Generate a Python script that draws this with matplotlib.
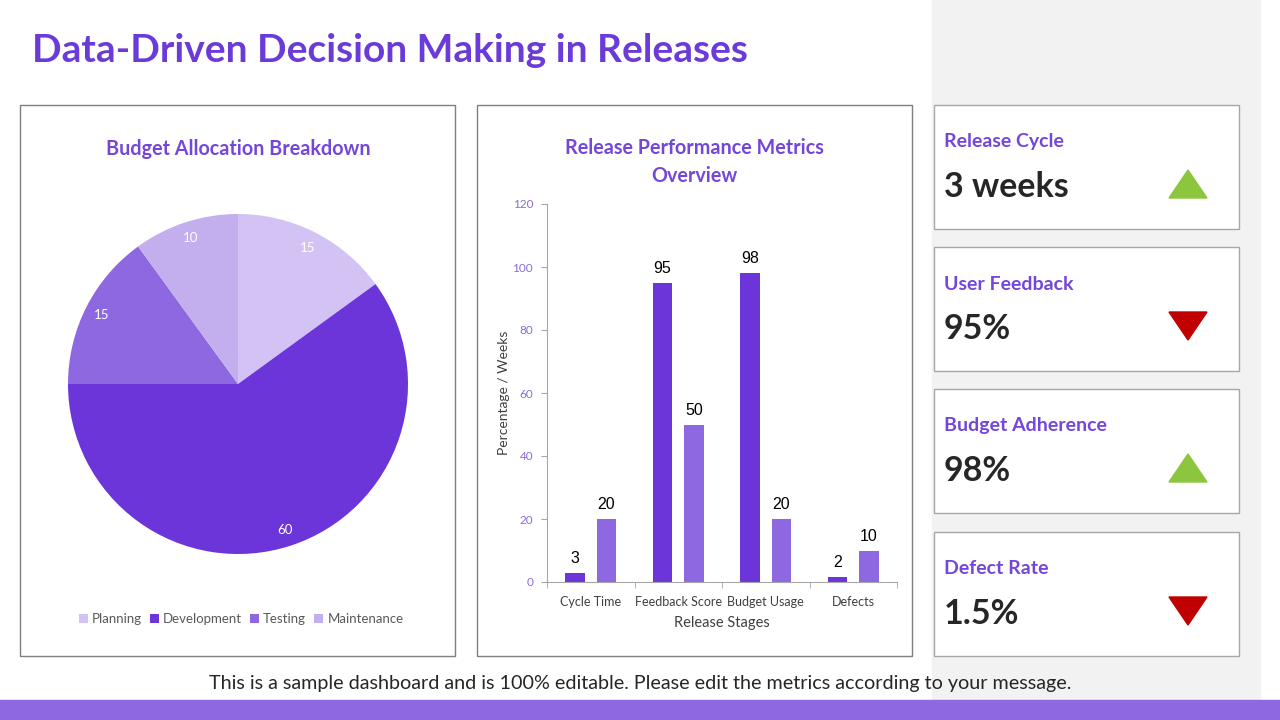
import numpy as np
import matplotlib.pyplot as plt
from matplotlib.patches import Rectangle, Polygon

plt.rcParams['font.family'] = ['Lato', 'DejaVu Sans']

# pie data
pie_labels = ['Planning', 'Development', 'Testing', 'Maintenance']
pie_values = [15, 60, 15, 10]
pie_colors = ['#D2C3F4', '#6B35DA', '#8D68E0', '#C3AEEE']

# bar data
stages = ['Cycle Time', 'Feedback Score', 'Budget Usage', 'Defects']
actual = [3, 95, 98, 1.5]
target = [20, 50, 20, 10]

# kpi cards
kpi_titles = ['Release Cycle', 'User Feedback', 'Budget Adherence', 'Defect Rate']
kpi_values = ['3 weeks', '95%', '98%', '1.5%']
kpi_up = [True, False, True, False]

W, H = 1280, 720
PURPLE = '#6A3BD8'
SUB = '#7446D9'

fig = plt.figure(figsize=(12.8, 7.2), dpi=100)
bg = fig.add_axes([0, 0, 1, 1])
bg.set_xlim(0, W)
bg.set_ylim(H, 0)
bg.axis('off')

def px_axes(x, y, w, h):
    return fig.add_axes([x / W, 1 - (y + h) / H, w / W, h / H])

# backgrounds
bg.add_patch(Rectangle((932, 0), 328, 700, color='#F2F2F2', zorder=0))
bg.add_patch(Rectangle((0, 700), W, 20, color='#8D68E0', zorder=0))

bg.text(32, 50, 'Data-Driven Decision Making in Releases', fontsize=28,
        fontweight='bold', color=PURPLE, va='center', ha='left')

# panel boxes
for x0 in [20, 477]:
    bg.add_patch(Rectangle((x0, 105), 435, 551, facecolor='white',
                           edgecolor='#7F7F7F', lw=1, zorder=1))

bg.text(238, 149, 'Budget Allocation Breakdown', fontsize=14.2, fontweight='bold',
        color=SUB, ha='center', va='center')
bg.text(694, 162, 'Release Performance Metrics\nOverview', fontsize=14.2,
        fontweight='bold', color=SUB, ha='center', va='center', linespacing=1.55)

# kpi cards
card_tops = [105, 247, 389, 532]
for top, t, v, up in zip(card_tops, kpi_titles, kpi_values, kpi_up):
    bg.add_patch(Rectangle((934, top), 305, 124, facecolor='white',
                           edgecolor='#A6A6A6', lw=1, zorder=1))
    bg.text(944, top + 37, t, fontsize=14, fontweight='bold', color=SUB,
            va='center', ha='left', zorder=2)
    bg.text(944, top + 82, v, fontsize=24.5, fontweight='bold', color='#262626',
            va='center', ha='left', zorder=2)
    if up:
        tri = [(1169, top + 93), (1207, top + 93), (1188, top + 65)]
        c = '#8CC63F'
    else:
        tri = [(1169, top + 65), (1207, top + 65), (1188, top + 93)]
        c = '#C00000'
    bg.add_patch(Polygon(tri, closed=True, color=c, zorder=2))

bg.text(640, 684, 'This is a sample dashboard and is 100% editable. Please edit the metrics according to your message.',
        fontsize=14.2, color='#262626', ha='center', va='center')

# pie chart
axp = px_axes(68, 214, 340, 340)
total = sum(pie_values)
wedges, texts, autotexts = axp.pie(
    pie_values, colors=pie_colors, startangle=90, counterclock=False,
    autopct=lambda p: '%d' % round(p * total / 100), pctdistance=0.9,
    textprops=dict(color='white', fontsize=9.5))
axp.set_xlim(-1, 1)
axp.set_ylim(-1, 1)
axp.set_aspect('equal')

fig.legend(wedges, pie_labels, loc='center', bbox_to_anchor=(241 / W, 1 - 619 / H),
           ncol=4, frameon=False, fontsize=9.5, handlelength=0.7, handleheight=0.7,
           handletextpad=0.3, columnspacing=0.6, labelcolor='#595959')

# bar chart
axb = px_axes(547, 204, 350, 378)
x = np.arange(len(stages))
w = 0.22
b1 = axb.bar(x - 0.18, actual, w, color='#6B35DA')
b2 = axb.bar(x + 0.18, target, w, color='#8D68E0')
for bars, vals in [(b1, actual), (b2, target)]:
    for r, v in zip(bars, vals):
        axb.text(r.get_x() + r.get_width() / 2, v + 2.2, '%d' % round(v + 0.01),
                 ha='center', va='bottom', fontsize=11.5, family='Liberation Sans',
                 color='black')
axb.set_xlim(-0.5, 3.5)
axb.set_ylim(0, 120)
axb.set_yticks(range(0, 121, 20))
axb.set_xticks(x)
axb.set_xticklabels(stages)
axb.set_xticks(np.arange(-0.5, 4, 1), minor=True)
axb.tick_params(axis='x', which='major', length=0, labelsize=9, labelcolor='#404040', pad=10)
axb.tick_params(axis='x', which='minor', length=4, color='#A6A6A6')
axb.tick_params(axis='y', length=4, color='#A6A6A6', labelsize=8.5, labelcolor='#8B6BD9', pad=6)
for s in ['top', 'right']:
    axb.spines[s].set_visible(False)
for s in ['left', 'bottom']:
    axb.spines[s].set_color('#A6A6A6')
axb.set_ylabel('Percentage / Weeks', fontsize=10, color='#404040', labelpad=2)
axb.set_xlabel('Release Stages', fontsize=10.5, color='#404040', labelpad=6)

fig.savefig('out.png', dpi=100, facecolor='white')
